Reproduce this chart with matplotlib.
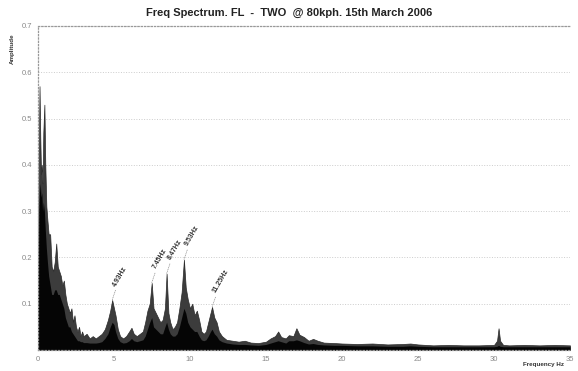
import matplotlib
matplotlib.use("Agg")
import matplotlib.pyplot as plt
import numpy as np

plt.rcParams['font.family'] = ['Liberation Sans', 'DejaVu Sans']

title = "Freq Spectrum. FL  -  TWO  @ 80kph. 15th March 2006"

freq = [0.00, 0.05, 0.10, 0.15, 0.20, 0.25, 0.30, 0.35, 0.42, 0.48, 0.55, 0.62, 0.70, 0.80, 0.90,
        1.00, 1.10, 1.20, 1.30, 1.40, 1.50, 1.60, 1.70, 1.80, 1.90, 2.00, 2.10, 2.20, 2.30, 2.40,
        2.50, 2.60, 2.70, 2.80, 2.90, 3.00, 3.20, 3.40, 3.60, 3.80, 4.00, 4.20, 4.40, 4.60, 4.75,
        4.88, 5.00, 5.10, 5.25, 5.40, 5.60, 5.80, 6.00, 6.15, 6.30, 6.50, 6.70, 6.90, 7.05, 7.20,
        7.35, 7.48, 7.60, 7.75, 7.90, 8.05, 8.20, 8.35, 8.46, 8.58, 8.70, 8.85, 9.00, 9.15, 9.30,
        9.45, 9.60, 9.72, 9.85, 10.00, 10.15, 10.30, 10.45, 10.60, 10.75, 10.90, 11.05, 11.20, 11.35, 11.45,
        11.60, 11.75, 11.90, 12.10, 12.40, 12.80, 13.20, 13.60, 14.00, 14.50, 15.00, 15.30, 15.60, 15.80, 16.00,
        16.30, 16.50, 16.80, 17.00, 17.20, 17.50, 17.80, 18.10, 18.40, 18.80, 19.50, 20.00, 21.00, 22.00, 23.00,
        24.00, 24.50, 25.00, 26.00, 27.00, 28.00, 29.00, 30.00, 30.20, 30.30, 30.40, 30.60, 31.00, 32.00, 33.00,
        34.00, 35.00]

peak_amp = [0.12, 0.42, 0.57, 0.46, 0.38, 0.40, 0.36, 0.47, 0.53, 0.40, 0.31, 0.28, 0.25, 0.25, 0.18,
            0.17, 0.19, 0.23, 0.18, 0.17, 0.16, 0.14, 0.15, 0.12, 0.10, 0.09, 0.08, 0.09, 0.06, 0.075,
            0.05, 0.04, 0.05, 0.03, 0.04, 0.03, 0.035, 0.025, 0.03, 0.025, 0.03, 0.035, 0.045, 0.065, 0.085,
            0.108, 0.09, 0.075, 0.045, 0.03, 0.025, 0.03, 0.04, 0.048, 0.035, 0.03, 0.035, 0.04, 0.06, 0.085,
            0.10, 0.145, 0.09, 0.08, 0.07, 0.06, 0.065, 0.09, 0.165, 0.08, 0.06, 0.045, 0.05, 0.06, 0.09,
            0.125, 0.195, 0.135, 0.11, 0.09, 0.10, 0.075, 0.085, 0.065, 0.04, 0.035, 0.04, 0.06, 0.08, 0.093,
            0.07, 0.06, 0.04, 0.03, 0.022, 0.02, 0.018, 0.02, 0.016, 0.015, 0.018, 0.025, 0.03, 0.04, 0.028,
            0.025, 0.032, 0.03, 0.047, 0.033, 0.028, 0.02, 0.024, 0.02, 0.016, 0.015, 0.014, 0.013, 0.014, 0.012,
            0.013, 0.014, 0.012, 0.010, 0.011, 0.010, 0.010, 0.011, 0.020, 0.047, 0.020, 0.011, 0.010, 0.011, 0.010,
            0.011, 0.010]

core_amp = [0.08, 0.30, 0.34, 0.36, 0.33, 0.34, 0.30, 0.32, 0.30, 0.26, 0.22, 0.19, 0.16, 0.14, 0.12,
            0.12, 0.13, 0.13, 0.12, 0.12, 0.11, 0.10, 0.09, 0.07, 0.06, 0.05, 0.05, 0.04, 0.035, 0.03,
            0.025, 0.02, 0.02, 0.018, 0.018, 0.016, 0.016, 0.015, 0.015, 0.015, 0.016, 0.018, 0.025, 0.035, 0.05,
            0.06, 0.055, 0.04, 0.025, 0.018, 0.015, 0.016, 0.02, 0.025, 0.02, 0.018, 0.02, 0.022, 0.03, 0.045,
            0.06, 0.07, 0.05, 0.045, 0.04, 0.035, 0.035, 0.05, 0.06, 0.045, 0.035, 0.03, 0.03, 0.035, 0.05,
            0.07, 0.09, 0.08, 0.06, 0.05, 0.045, 0.04, 0.04, 0.03, 0.022, 0.02, 0.022, 0.03, 0.04, 0.045,
            0.035, 0.03, 0.022, 0.018, 0.015, 0.013, 0.012, 0.012, 0.011, 0.010, 0.012, 0.015, 0.018, 0.020, 0.018,
            0.015, 0.020, 0.020, 0.022, 0.020, 0.016, 0.013, 0.014, 0.012, 0.011, 0.010, 0.010, 0.009, 0.009, 0.008,
            0.008, 0.009, 0.008, 0.007, 0.007, 0.007, 0.007, 0.007, 0.008, 0.010, 0.008, 0.007, 0.007, 0.007, 0.007,
            0.007, 0.007]

label_freqs = [4.88, 7.48, 8.46, 9.60, 11.45]
label_amps = [0.108, 0.145, 0.165, 0.195, 0.093]
label_texts = ["4.93Hz", "7.45Hz", "8.47Hz", "9.53Hz", "11.25Hz"]

x_ticks = [0, 5, 10, 15, 20, 25, 30, 35]
y_ticks = [0.1, 0.2, 0.3, 0.4, 0.5, 0.6, 0.7]

fig = plt.figure(figsize=(5.78, 3.71), dpi=100)
ax = fig.add_axes([38/578, 21/371, 532/578, 324/371])

ax.fill_between(freq, 0, peak_amp, color='#3c3c3c', linewidth=0.5, edgecolor='#2a2a2a')
ax.fill_between(freq, 0, core_amp, color='#050505', linewidth=0)

ax.set_xlim(0, 35)
ax.set_ylim(0, 0.7)
ax.set_xticks(x_ticks)
ax.set_xticklabels([str(v) for v in x_ticks])
ax.set_yticks(y_ticks)
ax.set_yticklabels([f"{v:.1f}" for v in y_ticks])
ax.tick_params(length=0, labelsize=5.5, colors='#888888', pad=4)
ax.yaxis.grid(True, linestyle=':', color='#cccccc', linewidth=0.7)
ax.set_axisbelow(True)
for side in ['left', 'top', 'bottom']:
    ax.spines[side].set_linestyle(':')
    ax.spines[side].set_color('#999999')
    ax.spines[side].set_linewidth(0.9)
ax.spines['right'].set_visible(False)

for f, a, t in zip(label_freqs, label_amps, label_texts):
    ax.annotate(t, xy=(f, a), xytext=(4, 9), textcoords='offset points',
                rotation=60, rotation_mode='anchor', ha='left', va='bottom',
                fontsize=5, fontweight='bold', color='#333333',
                arrowprops=dict(arrowstyle='-', color='#888888', lw=0.5, linestyle=':',
                                shrinkA=0, shrinkB=0))

fig.text(0.5, 0.965, title, ha='center', va='center', fontsize=8, fontweight='bold', color='#222222')
fig.text(0.022, 0.87, "Amplitude", rotation=90, ha='center', va='center', fontsize=4.5,
         fontweight='bold', color='#333333')
fig.text(0.94, 0.01, "Frequency Hz", ha='center', va='bottom', fontsize=4.5,
         fontweight='bold', color='#333333')

fig.savefig("out.png", dpi=100)
